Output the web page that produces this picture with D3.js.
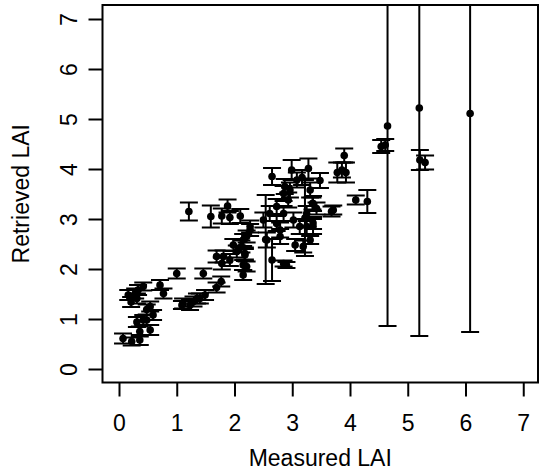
<!DOCTYPE html>
<html>
<head>
<meta charset="utf-8">
<script src="https://cdn.jsdelivr.net/npm/d3@7/dist/d3.min.js"></script>
<style>
  html, body { margin: 0; padding: 0; background: #fff; }
  svg { display: block; }
  text { font-family: "Liberation Sans", Arial, sans-serif; fill: #000; }
</style>
</head>
<body>
<svg id="chart" width="541" height="470"></svg>
<script>
// Measured LAI (x), Retrieved LAI (y), error half-width (retrieved)
const measured = [0.07,0.22,0.36,0.48,0.59,0.54,0.31,0.42,0.28,0.77,0.71,1.0,1.09,1.4,1.46,1.29,0.48,0.33,1.11,1.23,1.35,1.49,1.69,1.77,1.81,2.15,2.15,1.69,1.78,1.92,2.04,1.98,2.12,2.21,2.27,2.18,2.5,2.61,2.73,2.85,2.79,2.56,3.05,2.9,3.22,3.36,3.68,2.99,3.28,2.96,2.87,3.08,3.36,3.02,3.25,2.85,3.13,2.79,2.27,2.73,3.25,3.31,3.19,2.85,2.15,2.18,2.21,2.65,3.48,3.17,3.31,2.93,3.35,2.1,1.21,1.59,1.88,1.92,1.78,2.54,2.65,3.9,3.78,3.93,3.86,4.1,4.3,3.71,3.36,3.42,4.54,4.61,5.21,5.3,4.65,5.2,6.08,0.16,0.21,0.31,0.42,0.54,0.36];
const retrieved = [0.61,0.55,0.75,0.98,1.08,1.25,1.41,1.65,1.51,1.51,1.68,1.91,1.28,1.41,1.91,1.35,1.19,1.58,1.31,1.28,1.41,1.48,1.63,1.75,2.25,1.88,2.08,2.25,2.11,2.18,2.35,2.48,2.45,2.65,2.78,2.28,2.98,3.11,3.25,3.51,2.78,2.58,2.48,2.08,3.02,3.31,3.15,3.98,4.01,3.58,3.65,3.78,2.85,2.98,3.11,3.11,2.85,2.65,2.85,2.91,2.85,2.58,2.45,2.11,2.58,2.31,2.05,3.85,3.77,3.83,3.58,3.38,3.31,3.06,3.15,3.05,3.26,3.03,3.06,2.59,2.18,4.27,3.93,3.93,3.98,3.38,3.35,3.18,2.92,3.21,4.45,4.48,4.18,4.13,4.86,5.22,5.11,1.48,1.34,0.94,0.98,0.78,0.58];
const errors = [0.1,0.08,0.1,0.1,0.1,0.1,0.1,0.08,0.1,0.1,0.1,0.1,0.08,0.1,0.1,0.1,0.1,0.1,0.1,0.1,0.1,0.1,0.1,0.1,0.12,0.1,0.1,0.12,0.12,0.12,0.12,0.12,0.12,0.12,0.12,0.12,0.15,0.15,0.15,0.15,0.15,0.15,0.12,0.06,0.76,0.15,0.1,0.2,0.2,0.15,0.15,0.15,0.15,0.15,0.15,0.15,0.15,0.15,0.12,0.15,0.15,0.08,0.12,0.06,0.12,0.12,0.1,0.17,0.15,0.15,0.15,0.15,0.12,0.14,0.18,0.22,0.13,0.13,0.15,0.89,0.42,0.14,0.2,0.2,0.15,0.09,0.23,0.09,0.12,0.12,0.13,0.12,0.2,0.14,4.0,4.56,4.37,0.1,0.1,0.1,0.1,0.1,0.1];
const xTicks = [0,1,2,3,4,5,6,7];
const yTicks = [0,1,2,3,4,5,6,7];
const xTitle = "Measured LAI";
const yTitle = "Retrieved LAI";

const data = measured.map((m, i) => ({x: m, y: retrieved[i], e: errors[i]}));

const svg = d3.select("#chart");
const box = {left: 102.5, right: 538, top: 5, bottom: 382.5};
const x = d3.scaleLinear().domain([0, 7]).range([119, 523.25]);
const y = d3.scaleLinear().domain([0, 7]).range([369, 19]);

svg.append("defs").append("clipPath").attr("id", "clip")
  .append("rect").attr("x", box.left).attr("y", box.top)
  .attr("width", box.right - box.left).attr("height", box.bottom - box.top);

const fontSize = 23;
const lw = 2;

// X axis
const xAxis = svg.append("g").attr("transform", `translate(0,${box.bottom})`)
  .call(d3.axisBottom(x).tickValues(xTicks).tickSize(14).tickPadding(18).tickFormat(d3.format("d")));
xAxis.select(".domain").remove();
xAxis.selectAll(".tick line").attr("stroke", "#000").attr("stroke-width", lw);
xAxis.selectAll(".tick text").attr("font-size", fontSize).attr("font-family", "Liberation Sans, Arial, sans-serif");

// Y axis
const yAxis = svg.append("g").attr("transform", `translate(${box.left},0)`)
  .call(d3.axisLeft(y).tickValues(yTicks).tickSize(14).tickFormat(d3.format("d")));
yAxis.select(".domain").remove();
yAxis.selectAll(".tick line").attr("stroke", "#000").attr("stroke-width", lw);
yAxis.selectAll(".tick text")
  .attr("font-size", fontSize).attr("font-family", "Liberation Sans, Arial, sans-serif")
  .attr("x", null).attr("dy", null)
  .attr("text-anchor", "middle")
  .attr("transform", "translate(-26,0) rotate(-90)");

// Error bars
const capW = 9;
const g = svg.append("g").attr("clip-path", "url(#clip)")
  .attr("stroke", "#000").attr("stroke-width", lw).attr("fill", "none");
data.forEach(d => {
  const cx = x(d.x), y1 = y(d.y - d.e), y2 = y(d.y + d.e);
  g.append("line").attr("x1", cx).attr("x2", cx).attr("y1", y1).attr("y2", y2);
  g.append("line").attr("x1", cx - capW).attr("x2", cx + capW).attr("y1", y1).attr("y2", y1);
  g.append("line").attr("x1", cx - capW).attr("x2", cx + capW).attr("y1", y2).attr("y2", y2);
});

// Points
svg.append("g").attr("clip-path", "url(#clip)")
  .selectAll("circle").data(data).join("circle")
  .attr("cx", d => x(d.x)).attr("cy", d => y(d.y)).attr("r", 3.8).attr("fill", "#000");

// Box
svg.append("rect").attr("x", box.left).attr("y", box.top)
  .attr("width", box.right - box.left).attr("height", box.bottom - box.top)
  .attr("fill", "none").attr("stroke", "#000").attr("stroke-width", lw);

// Titles
svg.append("text").attr("x", (box.left + box.right) / 2).attr("y", 466)
  .attr("text-anchor", "middle").attr("font-size", fontSize).text(xTitle);
svg.append("text").attr("transform", `translate(29,${(box.top + box.bottom) / 2}) rotate(-90)`)
  .attr("text-anchor", "middle").attr("font-size", fontSize).text(yTitle);
</script>
</body>
</html>
